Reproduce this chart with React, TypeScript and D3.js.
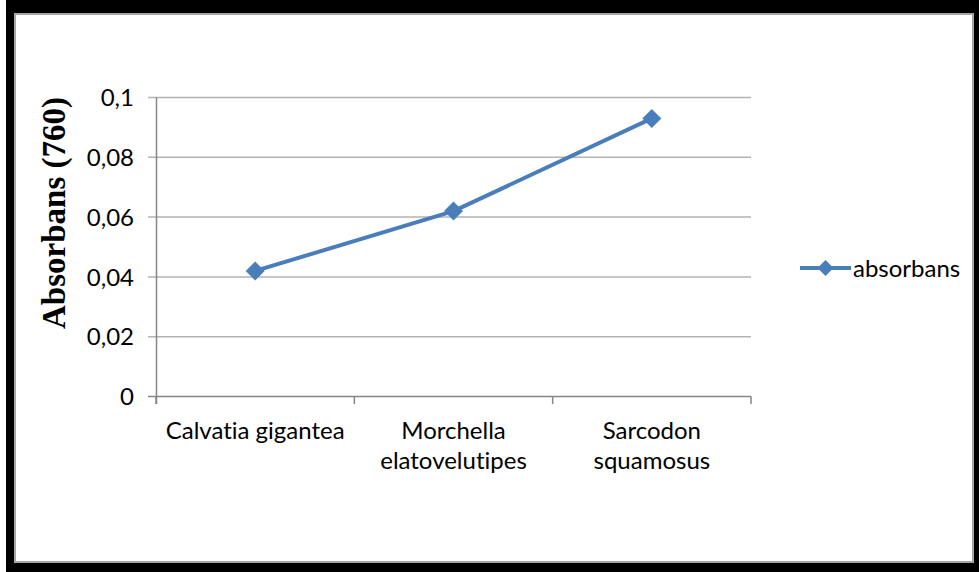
import React from "react";
import * as d3 from "d3";

const categories: string[][] = [
  ["Calvatia gigantea"],
  ["Morchella", "elatovelutipes"],
  ["Sarcodon", "squamosus"],
];
const categoryKeys = ["Calvatia gigantea", "Morchella elatovelutipes", "Sarcodon squamosus"];
const absorbans = [0.042, 0.062, 0.093];
const yTicks = [0, 0.02, 0.04, 0.06, 0.08, 0.1];
const yTickLabels = ["0", "0,02", "0,04", "0,06", "0,08", "0,1"];
const seriesName = "absorbans";
const yTitle = "Absorbans (760)";

const W = 979;
const H = 572;
const BLUE = "#4a7ebb";
const SANS = "Lato, 'Open Sans', sans-serif";
const FS = 24;
const textStyle = { fontVariantLigatures: "none" as const };

export default function App() {
  const x = d3.scaleBand<string>().domain(categoryKeys).range([156, 751]).padding(0);
  const y = d3.scaleLinear().domain([0, 0.1]).range([396.5, 97.5]);

  const pts = absorbans.map((v, i) => [x(categoryKeys[i])! + x.bandwidth() / 2, y(v)] as [number, number]);
  const line = d3.line()(pts) ?? "";
  const diamond = (cx: number, cy: number, r: number) =>
    `M${cx},${cy - r}L${cx + r},${cy}L${cx},${cy + r}L${cx - r},${cy}Z`;

  const tickXs = [...categoryKeys.map((k) => x(k)!), 751];

  return (
    <svg
      width={W}
      height={H}
      style={{ position: "absolute", left: 0, top: 0, display: "block" }}
    >
      <rect x={0} y={0} width={W} height={H} fill="#fff" />
      <rect x={6} y={0} width={W - 6} height={H} fill="#000" />
      <rect x={15} y={14} width={958} height={548} fill="#fff" stroke="#a6a6a6" strokeWidth={2} />

      {/* gridlines and y ticks */}
      {yTicks.map((t, i) => (
        <g key={i}>
          <line
            x1={148}
            x2={751}
            y1={y(t)}
            y2={y(t)}
            stroke={t === 0 ? "#868686" : "#b3b3b3"}
            strokeWidth={1.5}
          />
          <text
            x={134}
            y={y(t)}
            dy="0.36em"
            textAnchor="end"
            fontFamily={SANS}
            fontSize={FS}
            fill="#000"
            style={textStyle}
          >
            {yTickLabels[i]}
          </text>
        </g>
      ))}
      {/* y axis */}
      <line x1={156.5} x2={156.5} y1={y(0.1)} y2={404} stroke="#868686" strokeWidth={1.5} />
      {/* x ticks */}
      {tickXs.map((tx, i) => (
        <line key={i} x1={tx} x2={tx} y1={y(0)} y2={404} stroke="#868686" strokeWidth={1.5} />
      ))}
      {/* category labels */}
      {categories.map((lines, i) => (
        <text
          key={i}
          x={x(categoryKeys[i])! + x.bandwidth() / 2}
          y={439}
          textAnchor="middle"
          fontFamily={SANS}
          fontSize={FS}
          fill="#000"
          style={textStyle}
        >
          {lines.map((l, j) => (
            <tspan key={j} x={x(categoryKeys[i])! + x.bandwidth() / 2} dy={j === 0 ? 0 : 30}>
              {l}
            </tspan>
          ))}
        </text>
      ))}

      {/* y title */}
      <text
        transform={`translate(65,213) rotate(-90)`}
        textAnchor="middle"
        fontFamily="'Liberation Serif', 'Times New Roman', serif"
        fontWeight="bold"
        fontSize={33}
        fill="#000"
      >
        {yTitle}
      </text>

      {/* series */}
      <path d={line} fill="none" stroke={BLUE} strokeWidth={4} strokeLinejoin="round" />
      {pts.map(([px, py], i) => (
        <path key={i} d={diamond(px, py, 9.5)} fill={BLUE} />
      ))}

      {/* legend */}
      <line x1={800} x2={851} y1={268} y2={268} stroke={BLUE} strokeWidth={4} />
      <path d={diamond(825.5, 268, 8)} fill={BLUE} />
      <text x={853} y={268} dy="0.36em" fontFamily={SANS} fontSize={FS} fill="#000" style={textStyle}>
        {seriesName}
      </text>
    </svg>
  );
}
